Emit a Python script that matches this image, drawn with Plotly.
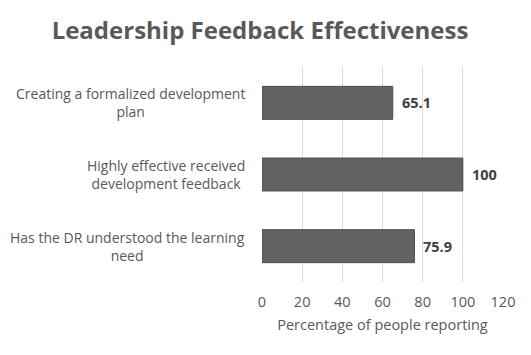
import plotly.graph_objects as go

categories = ["Has the DR understood the learning<br>need",
              "Highly effective received<br>development feedback",
              "Creating a formalized development<br>plan"]
values = [75.9, 100, 65.1]
value_labels = ["75.9", "100", "65.1"]
tick_vals = [0, 20, 40, 60, 80, 100, 120]

FONT = "Open Sans"
W, H = 523, 347  # page body has an 8px default margin
fig = go.Figure()
fig.add_trace(go.Bar(
    y=list(range(len(categories))), x=values, orientation="h",
    marker=dict(color="#626262", line=dict(color="#4e4e4e", width=1)),
    width=0.46, hoverinfo="skip",
))
for i, c in enumerate(categories):
    fig.add_annotation(x=0, xref="paper", xanchor="right", xshift=-15,
                       y=i, yref="y", text=c, showarrow=False, align="center",
                       font=dict(family=FONT, size=14, color="#595959"))
for i, (v, lab) in enumerate(zip(values, value_labels)):
    fig.add_annotation(x=v, xref="x", xanchor="left", xshift=7,
                       y=i, yref="y", text="<b>" + lab + "</b>", showarrow=False,
                       font=dict(family=FONT, size=14.5, color="#404040"))
fig.update_layout(
    width=W, height=H,
    margin=dict(l=254, r=28, t=59, b=73, autoexpand=False),
    paper_bgcolor="white", plot_bgcolor="white",
    title=dict(text="<b>Leadership Feedback Effectiveness</b>", x=252/W, xanchor="center",
               y=1 - 23/H, yanchor="middle", xref="container", yref="container",
               font=dict(family=FONT, size=24, color="#595959")),
    showlegend=False,
    xaxis=dict(range=[0, 120], tickvals=tick_vals, showgrid=True, gridcolor="#d9d9d9",
               zeroline=False, showline=False, ticks="", automargin=False,
               ticklabelstandoff=9,
               tickfont=dict(family=FONT, size=14.5, color="#595959"),
               title=dict(text="Percentage of people reporting", standoff=10,
                          font=dict(family=FONT, size=14.5, color="#595959"))),
    yaxis=dict(range=[-0.5, 2.5], showticklabels=False, showgrid=False, zeroline=False,
               automargin=False),
)
fig.write_html("out.html")
